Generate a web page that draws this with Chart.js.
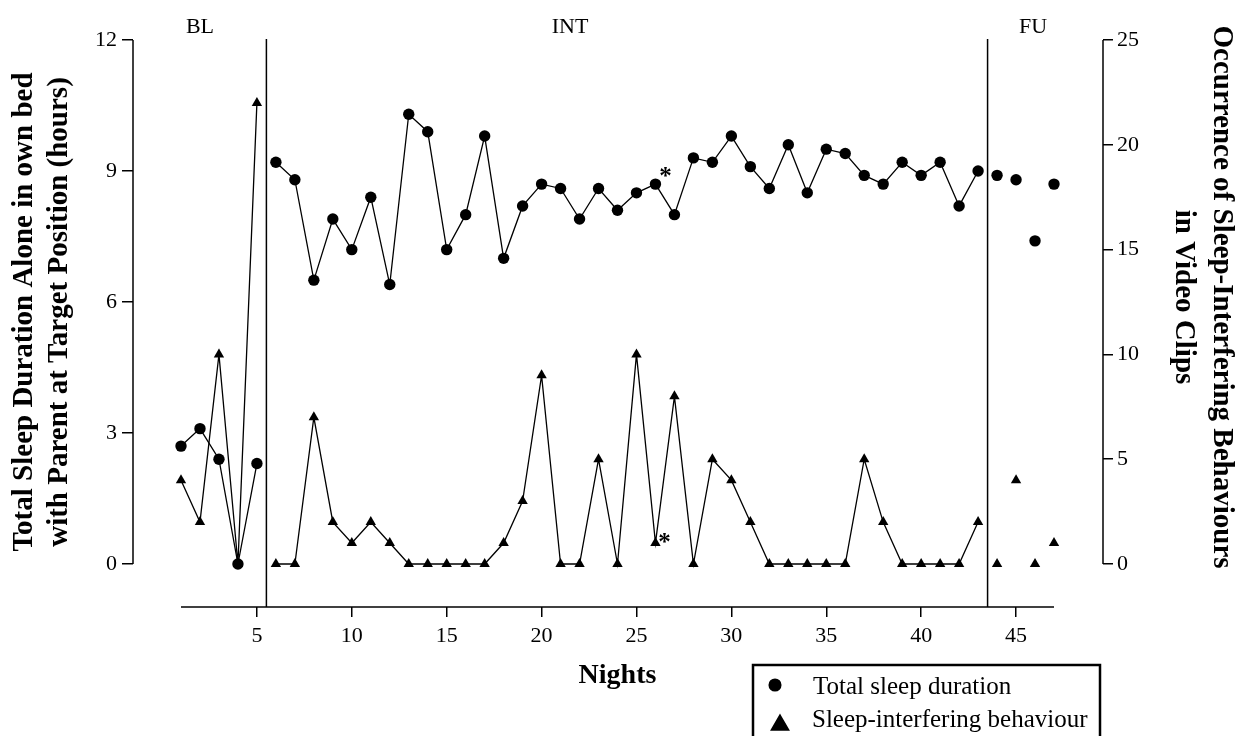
<!DOCTYPE html>
<html>
<head>
<meta charset="utf-8">
<script src="https://cdn.jsdelivr.net/npm/chart.js@4.4.1/dist/chart.umd.min.js"></script>
<style>
  html, body { margin: 0; padding: 0; background: #fff; }
  #wrap { width: 1235px; height: 736px; }
</style>
</head>
<body>
<div id="wrap"><canvas id="sleepChart" width="1235" height="736"></canvas></div>
<script>
// Noites observadas
const nights = [1, 2, 3, 4, 5, 6, 7, 8, 9, 10, 11, 12, 13, 14, 15, 16, 17, 18, 19, 20,
    21, 22, 23, 24, 25, 26, 27, 28, 29, 30, 31, 32, 33, 34, 35, 36, 37, 38, 39, 40,
    41, 42, 43, 44, 45, 46, 47];

// Duração total do sono (horas) - eixo esquerdo
const sleepHours = [2.7, 3.1, 2.4, 0, 2.3,
    9.2, 8.8, 6.5, 7.9, 7.2, 8.4, 6.4, 10.3, 9.9, 7.2, 8.0, 9.8, 7.0, 8.2, 8.7,
    8.6, 7.9, 8.6, 8.1, 8.5, 8.7, 8.0, 9.3, 9.2, 9.8, 9.1, 8.6, 9.6, 8.5, 9.5,
    9.4, 8.9, 8.7, 9.2, 8.9, 9.2, 8.2, 9.0,
    8.9, 8.8, 7.4, 8.7];

// Comportamentos que interferem no sono (ocorrências) - eixo direito
const behaviourCounts = [4, 2, 10, 0, 22,
    0, 0, 7, 2, 1, 2, 1, 0, 0, 0, 0, 0, 1, 3, 9,
    0, 0, 5, 0, 10, 1, 8, 0, 5, 4, 2, 0, 0, 0, 0,
    0, 5, 2, 0, 0, 0, 0, 2,
    0, 4, 0, 1];

// Fases: linha de base, intervenção, seguimento
const phaseLabels = ['BL', 'INT', 'FU'];
const phaseLabelAt = [2, 21.5, 45.9];
const phaseBreaks = [5.5, 43.5];
const starredNights = [26];

const xTicks = [5, 10, 15, 20, 25, 30, 35, 40, 45];
const hoursTicks = [0, 3, 6, 9, 12];
const countTicks = [0, 5, 10, 15, 20, 25];

const seriesNames = ['Total sleep duration', 'Sleep-interfering behaviour'];
const leftTitle = ['Total Sleep Duration Alone in own bed', 'with Parent at Target Position (hours)'];
const rightTitle = ['Occurrence of Sleep-Interfering Behaviours', 'in Video Clips'];
const xTitle = 'Nights';

// Layout (px)
const SERIF = "'Liberation Serif', 'Times New Roman', serif";
const PLOT = { left: 133, right: 1103, top: 40, bottom: 607 };
const DATA_LEFT = 181, DATA_RIGHT = 1054, ZERO_Y = 564;

const xFirst = nights[0], xLast = nights[nights.length - 1];
const pxPerNight = (DATA_RIGHT - DATA_LEFT) / (xLast - xFirst);
const xMin = xFirst - (DATA_LEFT - PLOT.left) / pxPerNight;
const xMax = xLast + (PLOT.right - DATA_RIGHT) / pxPerNight;
const hoursMax = hoursTicks[hoursTicks.length - 1];
const countMax = countTicks[countTicks.length - 1];
const gapRatio = (PLOT.bottom - ZERO_Y) / (ZERO_Y - PLOT.top);

// liga os pontos só dentro da mesma fase (seguimento sem linha)
const phaseOf = (n) => phaseBreaks.filter(b => n > b).length;
const segmentColor = (ctx) => {
    const a = phaseOf(ctx.p0.parsed.x);
    const b = phaseOf(ctx.p1.parsed.x);
    return (a !== b || a === phaseBreaks.length) ? 'rgba(0,0,0,0)' : undefined;
};

const line = (ctx, x1, y1, x2, y2) => {
    ctx.beginPath();
    ctx.moveTo(x1, y1);
    ctx.lineTo(x2, y2);
    ctx.stroke();
};

const decorPlugin = {
    id: 'decor',
    afterDraw(chart) {
        const { ctx, chartArea } = chart;
        const { x, y, y2 } = chart.scales;
        ctx.save();
        ctx.strokeStyle = '#000';
        ctx.fillStyle = '#000';
        ctx.lineWidth = 1.5;

        // eixos deslocados
        line(ctx, chartArea.left, y.getPixelForValue(hoursMax), chartArea.left, y.getPixelForValue(0));
        line(ctx, chartArea.right, y2.getPixelForValue(countMax), chartArea.right, y2.getPixelForValue(0));
        line(ctx, x.getPixelForValue(xFirst), chartArea.bottom, x.getPixelForValue(xLast), chartArea.bottom);

        // separadores de fase
        phaseBreaks.forEach(b => {
            const px = x.getPixelForValue(b);
            line(ctx, px, y.getPixelForValue(hoursMax) - 1, px, chartArea.bottom);
        });

        ctx.font = `22px ${SERIF}`;
        ctx.textAlign = 'center';
        ctx.textBaseline = 'middle';
        phaseLabels.forEach((lab, i) => {
            ctx.fillText(lab, x.getPixelForValue(phaseLabelAt[i]), 27);
        });

        // asteriscos
        ctx.font = `bold 25px ${SERIF}`;
        ctx.textBaseline = 'alphabetic';
        starredNights.forEach(n => {
            const i = nights.indexOf(n);
            const px = x.getPixelForValue(n);
            ctx.fillText('*', px + 10, y.getPixelForValue(sleepHours[i]));
            ctx.fillText('*', px + 9, y2.getPixelForValue(behaviourCounts[i]) + 7);
        });

        // títulos dos eixos
        ctx.font = `bold 29px ${SERIF}`;
        ctx.textBaseline = 'middle';
        ctx.save();
        ctx.translate(42, 312);
        ctx.rotate(-Math.PI / 2);
        ctx.fillText(leftTitle[0], 0, -17);
        ctx.fillText(leftTitle[1], 0, 18);
        ctx.restore();

        ctx.save();
        ctx.translate(1202, 297);
        ctx.rotate(Math.PI / 2);
        ctx.fillText(rightTitle[0], 0, -19);
        ctx.fillText(rightTitle[1], 0, 19);
        ctx.restore();

        ctx.font = `bold 28px ${SERIF}`;
        ctx.fillText(xTitle, x.getPixelForValue((xFirst + xLast) / 2), 676);

        // legenda
        ctx.lineWidth = 2.5;
        ctx.strokeRect(753, 665, 347, 120);
        Chart.helpers.drawPoint(ctx, { pointStyle: 'circle', radius: 5.3, borderWidth: 1 }, 775, 685);
        Chart.helpers.drawPoint(ctx, { pointStyle: 'triangle', radius: 9, borderWidth: 1 }, 780, 725);
        ctx.font = `25px ${SERIF}`;
        ctx.textAlign = 'left';
        ctx.textBaseline = 'alphabetic';
        ctx.fillText(seriesNames[0], 813, 694);
        ctx.fillText(seriesNames[1], 812, 727);
        ctx.restore();
    }
};

const tickFont = { family: SERIF, size: 22 };
const axisGrid = (len) => ({
    display: true,
    drawOnChartArea: false,
    drawTicks: true,
    tickLength: len,
    color: '#000',
    lineWidth: 1.5
});

new Chart(document.getElementById('sleepChart'), {
    type: 'line',
    data: {
        datasets: [
            {
                label: seriesNames[0],
                data: nights.map((n, i) => ({ x: n, y: sleepHours[i] })),
                yAxisID: 'y',
                borderColor: '#000',
                backgroundColor: '#000',
                borderWidth: 1.3,
                pointStyle: 'circle',
                pointRadius: 5.7,
                pointBorderWidth: 0,
                tension: 0,
                segment: { borderColor: segmentColor }
            },
            {
                label: seriesNames[1],
                data: nights.map((n, i) => ({ x: n, y: behaviourCounts[i] })),
                yAxisID: 'y2',
                borderColor: '#000',
                backgroundColor: '#000',
                borderWidth: 1.3,
                pointStyle: 'triangle',
                pointRadius: 6,
                pointBorderWidth: 0,
                tension: 0,
                segment: { borderColor: segmentColor }
            }
        ]
    },
    options: {
        responsive: false,
        animation: false,
        layout: { padding: { top: PLOT.top, left: 0, right: 0, bottom: 0 } },
        plugins: {
            legend: { display: false },
            tooltip: { enabled: false }
        },
        scales: {
            x: {
                type: 'linear',
                min: xMin,
                max: xMax,
                afterBuildTicks: (s) => { s.ticks = xTicks.map(v => ({ value: v })); },
                afterFit: (s) => { s.height = 736 - PLOT.bottom; },
                ticks: { color: '#000', font: tickFont, padding: 6, maxRotation: 0 },
                grid: axisGrid(10),
                border: { display: false }
            },
            y: {
                position: 'left',
                min: -hoursMax * gapRatio,
                max: hoursMax,
                afterBuildTicks: (s) => { s.ticks = hoursTicks.map(v => ({ value: v })); },
                afterFit: (s) => { s.width = PLOT.left; },
                ticks: { color: '#000', font: tickFont, padding: 5 },
                grid: axisGrid(11),
                border: { display: false }
            },
            y2: {
                position: 'right',
                min: -countMax * gapRatio,
                max: countMax,
                afterBuildTicks: (s) => { s.ticks = countTicks.map(v => ({ value: v })); },
                afterFit: (s) => { s.width = 1235 - PLOT.right; },
                ticks: { color: '#000', font: tickFont, padding: 4 },
                grid: axisGrid(10),
                border: { display: false }
            }
        }
    },
    plugins: [decorPlugin]
});
</script>
</body>
</html>
